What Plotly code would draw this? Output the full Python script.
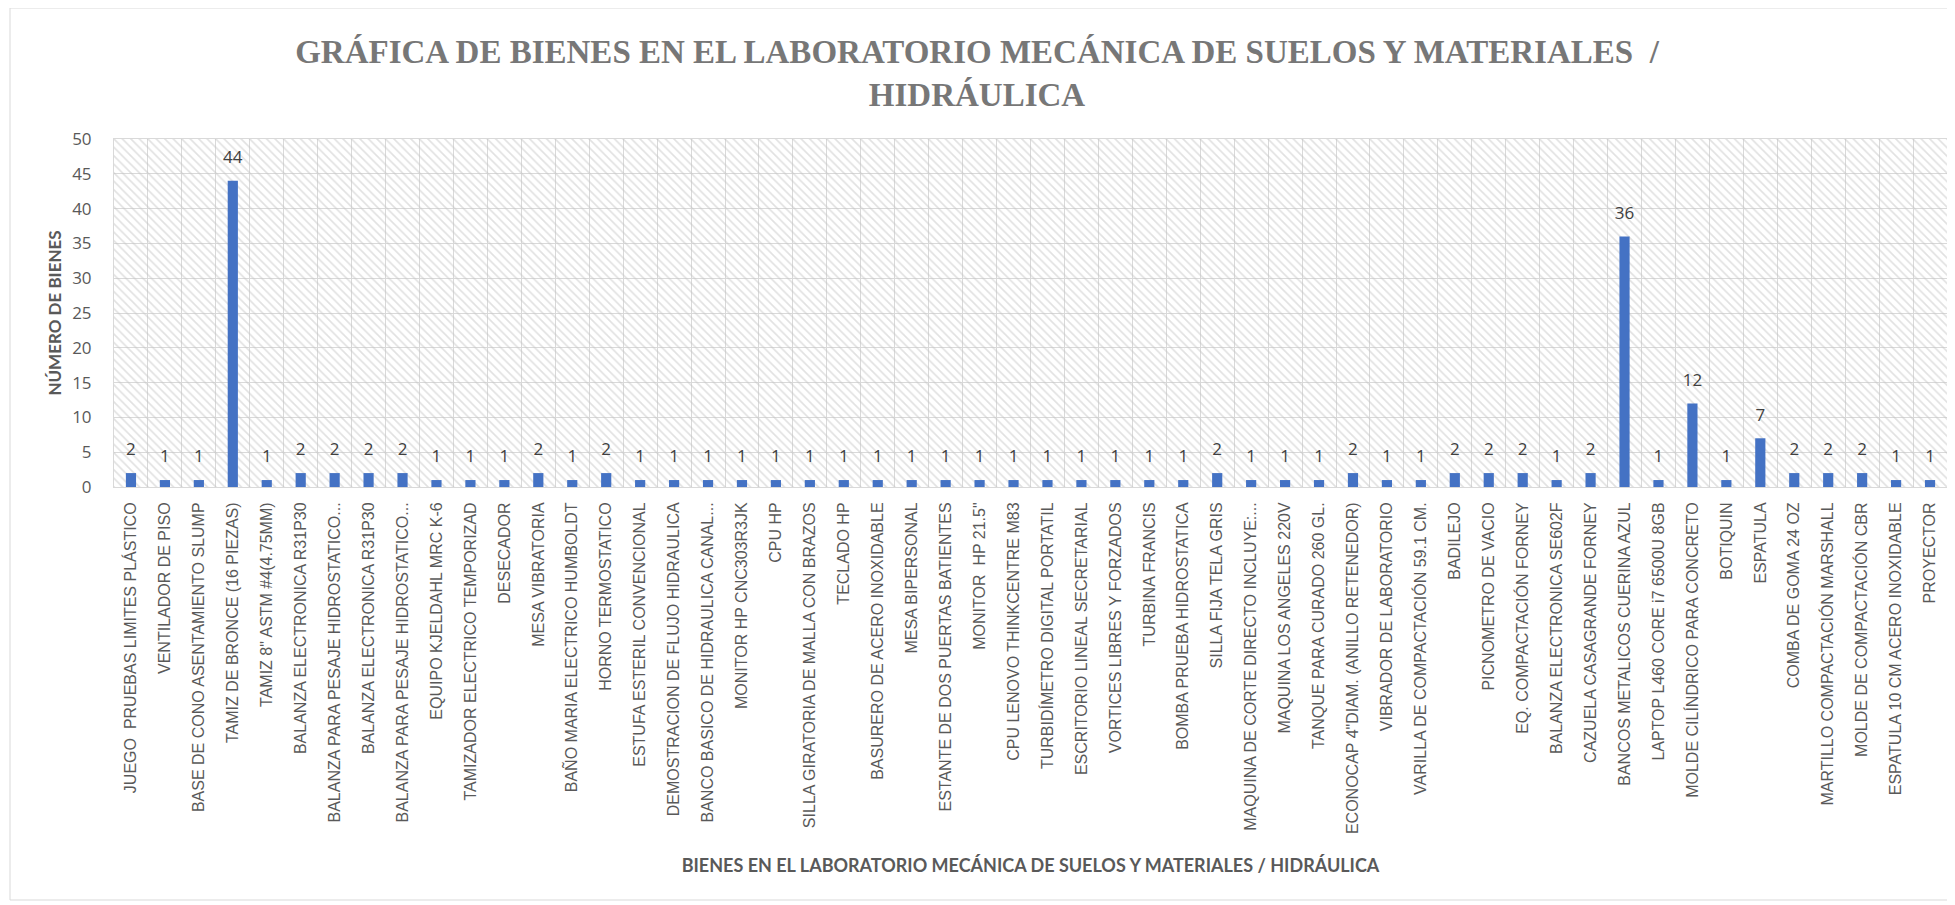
import plotly.graph_objects as go

categories = [
    "JUEGO  PRUEBAS LIMITES PLÁSTICO",
    "VENTILADOR DE PISO",
    "BASE DE CONO ASENTAMIENTO SLUMP",
    "TAMIZ DE BRONCE (16 PIEZAS)",
    "TAMIZ 8\" ASTM #4(4.75MM)",
    "BALANZA ELECTRONICA R31P30",
    "BALANZA PARA PESAJE HIDROSTATICO...",
    "BALANZA ELECTRONICA R31P30",
    "BALANZA PARA PESAJE HIDROSTATICO...",
    "EQUIPO KJELDAHL MRC K-6",
    "TAMIZADOR ELECTRICO TEMPORIZAD",
    "DESECADOR",
    "MESA VIBRATORIA",
    "BAÑO MARIA ELECTRICO HUMBOLDT",
    "HORNO TERMOSTATICO",
    "ESTUFA ESTERIL CONVENCIONAL",
    "DEMOSTRACION DE FLUJO HIDRAULICA",
    "BANCO BASICO DE HIDRAULICA CANAL...",
    "MONITOR HP CNC303R3JK",
    "CPU HP",
    "SILLA GIRATORIA DE MALLA CON BRAZOS",
    "TECLADO HP",
    "BASURERO DE ACERO INOXIDABLE",
    "MESA BIPERSONAL",
    "ESTANTE DE DOS PUERTAS BATIENTES",
    "MONITOR  HP 21.5\"",
    "CPU LENOVO THINKCENTRE M83",
    "TURBIDÍMETRO DIGITAL PORTATIL",
    "ESCRITORIO LINEAL SECRETARIAL",
    "VORTICES LIBRES Y FORZADOS",
    "TURBINA FRANCIS",
    "BOMBA PRUEBA HIDROSTATICA",
    "SILLA FIJA TELA GRIS",
    "MAQUINA DE CORTE DIRECTO INCLUYE:...",
    "MAQUINA LOS ANGELES 220V",
    "TANQUE PARA CURADO 260 GL.",
    "ECONOCAP 4\"DIAM. (ANILLO RETENEDOR)",
    "VIBRADOR DE LABORATORIO",
    "VARILLA DE COMPACTACIÓN 59.1 CM.",
    "BADILEJO",
    "PICNOMETRO DE VACIO",
    "EQ. COMPACTACIÓN FORNEY",
    "BALANZA ELECTRONICA SE602F",
    "CAZUELA CASAGRANDE FORNEY",
    "BANCOS METALICOS CUERINA AZUL",
    "LAPTOP L460 CORE i7 6500U 8GB",
    "MOLDE CILÍNDRICO PARA CONCRETO",
    "BOTIQUIN",
    "ESPATULA",
    "COMBA DE GOMA 24 OZ",
    "MARTILLO COMPACTACIÓN MARSHALL",
    "MOLDE DE COMPACTACIÓN CBR",
    "ESPATULA 10 CM ACERO INOXIDABLE",
    "PROYECTOR",
]

values = [
    2, 1, 1, 44, 1, 2, 2, 2, 2, 1,
    1, 1, 2, 1, 2, 1, 1, 1, 1, 1,
    1, 1, 1, 1, 1, 1, 1, 1, 1, 1,
    1, 1, 2, 1, 1, 1, 2, 1, 1, 2,
    2, 2, 1, 2, 36, 1, 12, 1, 7, 2,
    2, 2, 1, 1,
]

y_ticks = [0, 5, 10, 15, 20, 25, 30, 35, 40, 45, 50]

title_text = "GRÁFICA DE BIENES EN EL LABORATORIO MECÁNICA DE SUELOS Y MATERIALES  /<br>HIDRÁULICA"
x_title = "BIENES EN EL LABORATORIO MECÁNICA DE SUELOS Y MATERIALES / HIDRÁULICA"
y_title = "NÚMERO DE BIENES"

n = len(categories)
pos = list(range(n))
y_max = y_ticks[-1]

# page body has an 8px margin; the figure is sized to fit the window
OFF = 8
W, H = 1955 - OFF, 905 - OFF
L, R, T = 114 - OFF, 8, 139 - OFF
B = H - (487 - OFF)
pw, ph = W - L - R, H - T - B

fig = go.Figure()

# hatched plot-area background
fig.add_trace(go.Bar(
    x=[(n - 1) / 2], y=[y_max], width=[n],
    marker=dict(color="rgba(0,0,0,0)", line=dict(width=0),
                pattern=dict(shape="\\", fgcolor="#c4c4c4", bgcolor="rgba(0,0,0,0)",
                             size=6, solidity=0.28)),
    hoverinfo="skip", showlegend=False,
))

fig.add_trace(go.Bar(
    x=pos, y=values, width=0.3,
    marker=dict(color="#4472C4", line=dict(width=0)),
    showlegend=False,
))

fig.add_trace(go.Scatter(
    x=pos, y=values, mode="markers+text",
    text=[str(v) for v in values], textposition="top center",
    textfont=dict(family="Open Sans, Liberation Sans, sans-serif", size=17, color="#404040"),
    marker=dict(size=20, opacity=0),
    hoverinfo="skip", showlegend=False, cliponaxis=False,
))

def px_x(p):
    return (p - OFF - L) / pw

def px_y(p):
    return (H - B - (p - OFF)) / ph

fig.add_shape(type="rect", xref="paper", yref="paper",
              x0=px_x(10), x1=px_x(1950), y0=px_y(900), y1=px_y(8),
              line=dict(color="#d9d9d9", width=1), fillcolor="rgba(0,0,0,0)", layer="below")

fig.update_layout(
    width=W, height=H,
    margin=dict(l=L, r=R, t=T, b=B, autoexpand=False),
    paper_bgcolor="white", plot_bgcolor="white",
    barmode="overlay",
    title=dict(text=title_text, x=(977 - OFF) / W, xanchor="center",
               y=1 - 55 / H, yanchor="top",
               font=dict(family="Liberation Serif, serif", size=33, color="#777777",
                         weight="bold")),
    xaxis=dict(
        range=[-0.5, n - 0.5], tickmode="array", tickvals=pos, ticktext=categories,
        tickangle=-90, showgrid=False, automargin=False,
        tickfont=dict(family="Liberation Sans, Arial, sans-serif", size=16, color="#595959"),
        ticklabelstandoff=8,
        showline=True, linecolor="#d9d9d9", linewidth=1,
        minor=dict(tick0=-0.5, dtick=1, showgrid=True, gridcolor="#d9d9d9", gridwidth=1),
        title=dict(text=x_title, standoff=26,
                   font=dict(family="Lato, Open Sans, sans-serif", size=18, color="#595959",
                             weight="bold")),
        zeroline=False, mirror=True,
    ),
    yaxis=dict(
        range=[0, y_max], tickmode="array", tickvals=y_ticks,
        showgrid=True, gridcolor="#d9d9d9", gridwidth=1, automargin=False,
        tickfont=dict(family="Open Sans, sans-serif", size=17, color="#595959"),
        ticklabelstandoff=18,
        showline=True, linecolor="#d9d9d9", mirror=True, zeroline=False,
        title=dict(text=y_title, standoff=6,
                   font=dict(family="Lato, Open Sans, sans-serif", size=17, color="#595959",
                             weight="bold")),
    ),
)

fig.write_html("out.html")
